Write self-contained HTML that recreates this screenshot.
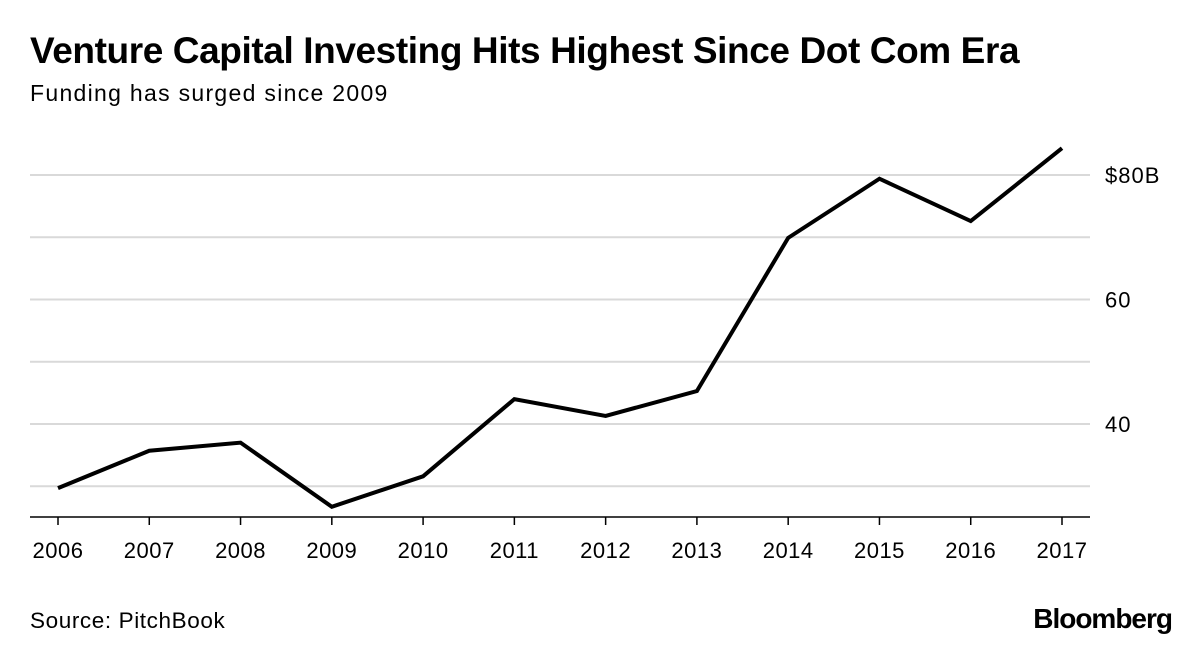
<!DOCTYPE html>
<html><head><meta charset="utf-8"><style>
body{margin:0;background:#fff;width:1200px;height:647px;overflow:hidden;font-family:"Liberation Sans",sans-serif;}
</style></head><body>
<svg width="1200" height="647" xmlns="http://www.w3.org/2000/svg">
<text x="30" y="63" font-size="37" font-weight="bold" fill="#000" style="letter-spacing:-0.4px">Venture Capital Investing Hits Highest Since Dot Com Era</text>
<text x="30" y="101" font-size="23" fill="#000" style="letter-spacing:1.3px">Funding has surged since 2009</text>
<g id="grid"></g>
<g id="xaxis"></g>
<path id="line" fill="none" stroke="#000" stroke-width="4" stroke-linejoin="miter"></path>
<text x="30" y="628" font-size="22.5" fill="#000" style="letter-spacing:0.6px">Source: PitchBook</text>
<text x="1172" y="628" font-size="28" font-weight="bold" text-anchor="end" fill="#000" style="letter-spacing:-1px">Bloomberg</text>
</svg>
<script>
const years=[2006,2007,2008,2009,2010,2011,2012,2013,2014,2015,2016,2017];
const values=[29.7,35.7,37.0,26.7,31.6,44.0,41.3,45.3,69.9,79.4,72.6,84.3];
const gridValues=[30,40,50,60,70,80];
const gridLabels={40:"40",60:"60",80:"$80B"};
const ns="http://www.w3.org/2000/svg";
const x=i=>58+i*(1062-58)/(years.length-1);
const y=v=>175+(80-v)*6.225;
function mk(t,a,p){const e=document.createElementNS(ns,t);for(const k in a)e.setAttribute(k,a[k]);p.appendChild(e);return e;}
const g=document.getElementById('grid');
gridValues.forEach(v=>{
 const l=mk('line',{x1:30,x2:1090,y1:y(v),y2:y(v),stroke:'#d9d9d9','stroke-width':2},g);
 
 
 if(gridLabels[v]){const t=mk('text',{x:1105,y:y(v)+8,'font-size':22,fill:'#000',style:'letter-spacing:1px'},g);t.textContent=gridLabels[v];
 
 }
});
const xa=document.getElementById('xaxis');
const ax=mk('line',{x1:30,x2:1090,y1:517,y2:517,stroke:'#000','stroke-width':1.5},xa);


years.forEach((yr,i)=>{
 const tk=mk('line',{x1:x(i),x2:x(i),y1:517,y2:525,stroke:'#000','stroke-width':1.5},xa);
 
 
 const t=mk('text',{x:x(i),y:558,'font-size':22,'text-anchor':'middle',fill:'#000',style:'letter-spacing:0.5px'},xa);t.textContent=yr;
 
 
});
document.getElementById('line').setAttribute('d',values.map((v,i)=>(i?'L':'M')+x(i)+','+y(v)).join(' '));
</script>
</body></html>
